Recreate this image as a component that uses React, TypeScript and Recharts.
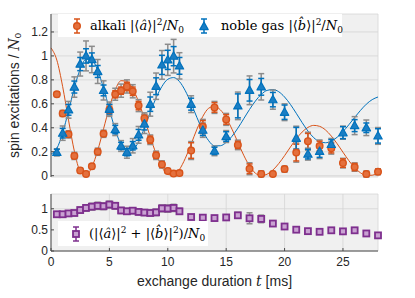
import React from 'react';
import { ComposedChart, Line, Scatter, ErrorBar, XAxis, YAxis, CartesianGrid, Legend } from 'recharts';

// ---------- data ----------
const times = [0.5, 1, 1.5, 2, 2.5, 3, 3.5, 4, 4.5, 5, 5.5, 6, 6.5, 7, 7.5, 8, 8.5, 9, 9.5, 10, 10.5, 11,
  12, 13, 14, 15, 16, 17, 18, 19, 20, 21, 22, 23, 24, 25, 26, 27, 28];

const alkali = [0.68, 0.52, 0.345, 0.165, 0.044, 0.015, 0.078, 0.2, 0.35, 0.55, 0.68, 0.71, 0.745, 0.705, 0.585, 0.48, 0.3, 0.17, 0.094, 0.04, 0.018, 0.022,
  0.21, 0.41, 0.57, 0.47, 0.257, 0.058, 0.015, 0.015, 0.055, 0.193, 0.288, 0.248, 0.23, 0.105, 0.072, 0.014, 0.033];
const alkaliErr = [0.015, 0.02, 0.02, 0.02, 0.015, 0.015, 0.015, 0.02, 0.02, 0.03, 0.03, 0.03, 0.035, 0.035, 0.035, 0.03, 0.03, 0.025, 0.02, 0.015, 0.015, 0.015,
  0.065, 0.05, 0.04, 0.04, 0.03, 0.04, 0.02, 0.015, 0.02, 0.07, 0.065, 0.04, 0.04, 0.035, 0.03, 0.02, 0.02];
const alkaliErrSys = [0.02, 0.025, 0.03, 0.03, 0.02, 0.02, 0.02, 0.03, 0.03, 0.045, 0.05, 0.055, 0.055, 0.055, 0.05, 0.045, 0.04, 0.035, 0.03, 0.02, 0.02, 0.02,
  0.075, 0.06, 0.05, 0.05, 0.04, 0.05, 0.025, 0.02, 0.025, 0.08, 0.075, 0.05, 0.05, 0.04, 0.035, 0.025, 0.025];

const noble = [0.195, 0.355, 0.55, 0.74, 0.932, 1.0, 0.97, 0.87, 0.712, 0.555, 0.385, 0.248, 0.196, 0.25, 0.341, 0.432, 0.597, 0.747, 0.925, 0.967, 0.998, 0.917,
  0.597, 0.38, 0.207, 0.327, 0.583, 0.713, 0.742, 0.635, 0.53, 0.313, 0.18, 0.203, 0.261, 0.359, 0.418, 0.4, 0.332];
const nobleErr = [0.025, 0.04, 0.045, 0.05, 0.055, 0.06, 0.055, 0.05, 0.045, 0.04, 0.035, 0.03, 0.03, 0.035, 0.045, 0.05, 0.06, 0.07, 0.08, 0.08, 0.08, 0.07,
  0.05, 0.045, 0.03, 0.04, 0.1, 0.09, 0.07, 0.06, 0.06, 0.09, 0.04, 0.05, 0.04, 0.05, 0.05, 0.04, 0.06];
const nobleErrSys = [0.03, 0.06, 0.07, 0.085, 0.1, 0.125, 0.11, 0.1, 0.08, 0.06, 0.05, 0.045, 0.05, 0.06, 0.07, 0.08, 0.1, 0.11, 0.12, 0.13, 0.14, 0.11,
  0.07, 0.06, 0.04, 0.05, 0.115, 0.12, 0.11, 0.08, 0.07, 0.1, 0.05, 0.06, 0.05, 0.055, 0.075, 0.065, 0.07];

const total = [0.87, 0.87, 0.89, 0.9, 0.97, 1.02, 1.05, 1.07, 1.06, 1.1, 1.07, 0.96, 0.94, 0.955, 0.925, 0.91, 0.9, 0.915, 1.01, 1.005, 1.02, 0.94,
  0.805, 0.79, 0.78, 0.795, 0.845, 0.775, 0.76, 0.65, 0.58, 0.505, 0.47, 0.455, 0.49, 0.465, 0.49, 0.415, 0.37];
const totalErr = [0.02, 0.02, 0.025, 0.025, 0.03, 0.03, 0.03, 0.03, 0.03, 0.03, 0.03, 0.03, 0.03, 0.03, 0.03, 0.03, 0.03, 0.03, 0.03, 0.03, 0.03, 0.03,
  0.03, 0.03, 0.025, 0.03, 0.05, 0.06, 0.05, 0.04, 0.035, 0.04, 0.03, 0.025, 0.03, 0.025, 0.03, 0.03, 0.03];
const totalErrSys = [0.03, 0.035, 0.045, 0.055, 0.065, 0.075, 0.08, 0.085, 0.08, 0.08, 0.075, 0.07, 0.07, 0.07, 0.065, 0.065, 0.07, 0.075, 0.08, 0.085, 0.085, 0.07,
  0.04, 0.04, 0.035, 0.04, 0.07, 0.13, 0.09, 0.06, 0.05, 0.06, 0.04, 0.03, 0.04, 0.03, 0.04, 0.04, 0.04];

const fitTimes = [0, 0.5, 1, 1.5, 2, 2.5, 3, 3.5, 4, 4.5, 5, 5.5, 6, 6.5, 7, 7.5, 8, 8.5, 9, 9.5, 10, 10.5, 11, 11.5, 12, 12.5, 13, 13.5, 14,
  14.5, 15, 15.5, 16, 16.5, 17, 17.5, 18, 18.5, 19, 19.5, 20, 20.5, 21, 21.5, 22, 22.5, 23, 23.5, 24, 24.5, 25, 25.5, 26, 26.5, 27, 27.5, 28];
const alkaliFit = [1.067, 0.965, 0.743, 0.464, 0.205, 0.037, 0.004, 0.072, 0.211, 0.391, 0.572, 0.717, 0.793, 0.79, 0.727, 0.617, 0.476, 0.324, 0.183, 0.073, 0.01,
  0.004, 0.052, 0.145, 0.265, 0.389, 0.495, 0.563, 0.579, 0.55, 0.483, 0.388, 0.279, 0.171, 0.081, 0.021, 0.0, 0.012, 0.047, 0.101, 0.167, 0.239, 0.307,
  0.364, 0.403, 0.42, 0.412, 0.382, 0.331, 0.267, 0.196, 0.126, 0.067, 0.024, 0.002, 0.004, 0.019];
const nobleFit = [0.18, 0.227, 0.358, 0.541, 0.733, 0.889, 0.972, 0.965, 0.878, 0.731, 0.554, 0.384, 0.259, 0.202, 0.217, 0.282, 0.4, 0.53, 0.65, 0.745, 0.805,
  0.819, 0.786, 0.709, 0.603, 0.485, 0.375, 0.292, 0.249, 0.25, 0.278, 0.329, 0.397, 0.475, 0.553, 0.623, 0.678, 0.712, 0.719, 0.701, 0.657, 0.595, 0.521,
  0.444, 0.373, 0.317, 0.284, 0.275, 0.289, 0.321, 0.368, 0.425, 0.486, 0.545, 0.597, 0.635, 0.657];

const xTicks = [0, 5, 10, 15, 20, 25];
const topYTicks = [0, 0.2, 0.4, 0.6, 0.8, 1, 1.2];
const bottomYTicks = [0, 0.5, 1];

// ---------- tables ----------
const alkaliData = times.map((t, i) => ({ t, v: alkali[i], e: alkaliErr[i], s: alkaliErrSys[i] }));
const nobleData = times.map((t, i) => ({ t, v: noble[i], e: nobleErr[i], s: nobleErrSys[i] }));
const totalData = times.map((t, i) => ({ t, v: total[i], e: totalErr[i], s: totalErrSys[i] }));
const alkaliFitData = fitTimes.map((t, i) => ({ t, v: alkaliFit[i] }));
const nobleFitData = fitTimes.map((t, i) => ({ t, v: nobleFit[i] }));

// ---------- styles ----------
const ORANGE = '#D95319';
const BLUE = '#0072BD';
const PURPLE = '#7E2F8E';
const GRAY = '#8c8c8c';
const AX = '#4a4a4a';
const TXT = '#262626';
const SANS = '"Liberation Sans", Arial, Helvetica, sans-serif';
const SERIF = '"DejaVu Serif", "Liberation Serif", serif';

const CircleShape = (p: any) => (
  <circle cx={p.cx} cy={p.cy} r={3.3} fill="#e4703d" stroke={ORANGE} strokeWidth={1.4} />
);
const TriangleShape = (p: any) => (
  <polygon
    points={`${p.cx},${p.cy - 4.4} ${p.cx - 4.2},${p.cy + 3.1} ${p.cx + 4.2},${p.cy + 3.1}`}
    fill="#1a7ec4" stroke={BLUE} strokeWidth={1.2} strokeLinejoin="round"
  />
);
const SquareShape = (p: any) => (
  <rect x={p.cx - 3} y={p.cy - 3} width={6} height={6} fill="#c9a2d2" stroke={PURPLE} strokeWidth={1.8} />
);

const tickStyle = { fontSize: 12, fill: TXT, fontFamily: SANS };

const sup = { fontSize: 9, position: 'relative' as const, top: -5 };
const sub = { fontSize: 9, position: 'relative' as const, top: 3 };

const MarkerSvg = ({ kind, color }: { kind: string; color: string }) => (
  <svg width={14} height={20} style={{ position: 'absolute', left: 0, top: 0, overflow: 'visible' }}>
    <line x1={7} y1={3} x2={7} y2={17} stroke={color} strokeWidth={1.5} />
    <line x1={4} y1={3} x2={10} y2={3} stroke={color} strokeWidth={1.5} />
    <line x1={4} y1={17} x2={10} y2={17} stroke={color} strokeWidth={1.5} />
    {kind === 'circle' && <CircleShape cx={7} cy={10} />}
    {kind === 'triangle' && <TriangleShape cx={7} cy={10.5} />}
    {kind === 'square' && <SquareShape cx={7} cy={10} />}
  </svg>
);

const TopLegend = () => (
  <div style={{ position: 'relative', width: 284, height: 23, background: '#fff', fontFamily: SERIF, fontSize: 13, color: '#000' }}>
    <div style={{ position: 'absolute', left: 12, top: 1.5, width: 14, height: 20 }}>
      <MarkerSvg kind="circle" color={ORANGE} />
    </div>
    <div style={{ position: 'absolute', left: 32, top: 0, lineHeight: '23px', whiteSpace: 'nowrap' }}>
      alkali |⟨<i>â</i>⟩|<span style={sup}>2</span>/<i>N</i><span style={sub}>0</span>
    </div>
    <div style={{ position: 'absolute', left: 139, top: 1.5, width: 14, height: 20 }}>
      <MarkerSvg kind="triangle" color={BLUE} />
    </div>
    <div style={{ position: 'absolute', left: 163, top: 0, lineHeight: '23px', whiteSpace: 'nowrap' }}>
      noble gas |⟨<i>b̂</i>⟩|<span style={sup}>2</span>/<i>N</i><span style={sub}>0</span>
    </div>
  </div>
);

const BottomLegend = () => (
  <div style={{ position: 'relative', width: 150, height: 25, background: '#fff', fontFamily: SERIF, fontSize: 13, color: '#000' }}>
    <div style={{ position: 'absolute', left: 11, top: 2.5, width: 14, height: 20 }}>
      <MarkerSvg kind="square" color={PURPLE} />
    </div>
    <div style={{ position: 'absolute', left: 31, top: 0, lineHeight: '25px', whiteSpace: 'nowrap' }}>
      (|⟨<i>â</i>⟩|<span style={sup}>2</span> + |⟨<i>b̂</i>⟩|<span style={sup}>2</span>)/<i>N</i><span style={sub}>0</span>
    </div>
  </div>
);

const YLabel = (props: any) => {
  const vb = props.viewBox || { x: 10, y: 14, width: 41, height: 163 };
  const cx = vb.x + 4;
  const cy = vb.y + vb.height / 2;
  return (
    <text x={cx} y={cy} transform={`rotate(-90 ${cx} ${cy})`} textAnchor="middle" dominantBaseline="central"
      fontFamily={SANS} fontSize={14} fill={TXT}>
      spin excitations / <tspan fontFamily={SERIF} fontStyle="italic">N</tspan>
      <tspan fontSize={9.5} dy={3}>0</tspan>
    </text>
  );
};

const XLabel = (props: any) => {
  const vb = props.viewBox || { x: 51, y: 66, width: 327, height: 47 };
  const cx = vb.x + vb.width / 2;
  const cy = vb.y + 34.5;
  return (
    <text x={cx} y={cy} textAnchor="middle" fontFamily={SANS} fontSize={14} fill={TXT}>
      exchange duration <tspan fontFamily={SERIF} fontStyle="italic">t</tspan> [ms]
    </text>
  );
};

export default function App() {
  return (
    <div style={{ position: 'absolute', left: 0, top: 0, width: 415, height: 298, background: '#fff', overflow: 'hidden' }}>
      <div style={{ position: 'absolute', left: 0, top: 0 }}>
        <ComposedChart width={415} height={185} margin={{ top: 14, right: 37, bottom: 8, left: 10 }}>
          <CartesianGrid xAxisId="x" yAxisId="y" stroke="#d6d6d6" fill="#f0f0f0" strokeWidth={0.8} />
          <XAxis xAxisId="x" dataKey="t" type="number" domain={[0, 28]} ticks={xTicks} height={0}
            tick={false} tickSize={-3} axisLine={{ stroke: AX }} tickLine={{ stroke: AX }} />
          <XAxis xAxisId="xt" orientation="top" type="number" domain={[0, 28]} ticks={xTicks} height={0}
            tick={false} tickSize={-3} axisLine={{ stroke: AX }} tickLine={{ stroke: AX }} allowDataOverflow />
          <YAxis yAxisId="y" type="number" domain={[0, 1.35]} ticks={topYTicks} width={41}
            tickSize={-3} tickMargin={6} tick={tickStyle} axisLine={{ stroke: AX }} tickLine={{ stroke: AX }}
            label={YLabel} />
          <YAxis yAxisId="yr" orientation="right" type="number" domain={[0, 1.35]} ticks={topYTicks} width={0}
            tick={false} tickSize={-3} axisLine={{ stroke: AX }} tickLine={{ stroke: AX }} allowDataOverflow />
          <Line xAxisId="x" yAxisId="y" data={alkaliFitData} dataKey="v" type="monotone" stroke={ORANGE}
            strokeWidth={1} dot={false} activeDot={false} isAnimationActive={false} />
          <Line xAxisId="x" yAxisId="y" data={nobleFitData} dataKey="v" type="monotone" stroke={BLUE}
            strokeWidth={1} dot={false} activeDot={false} isAnimationActive={false} />
          <Scatter xAxisId="x" yAxisId="y" data={alkaliData} dataKey="v" shape={CircleShape} isAnimationActive={false}>
            <ErrorBar dataKey="s" direction="y" width={3} stroke={GRAY} strokeWidth={1.5} />
            <ErrorBar dataKey="e" direction="y" width={3} stroke={ORANGE} strokeWidth={1.5} />
          </Scatter>
          <Scatter xAxisId="x" yAxisId="y" data={nobleData} dataKey="v" shape={TriangleShape} isAnimationActive={false}>
            <ErrorBar dataKey="s" direction="y" width={3} stroke={GRAY} strokeWidth={1.5} />
            <ErrorBar dataKey="e" direction="y" width={3} stroke={BLUE} strokeWidth={1.5} />
          </Scatter>
          <Legend layout="horizontal" verticalAlign="middle" align="center" content={TopLegend}
            wrapperStyle={{ left: 58, top: 14, width: 284, height: 23 }} />
        </ComposedChart>
      </div>
      <div style={{ position: 'absolute', left: 0, top: 185 }}>
        <ComposedChart width={415} height={113} margin={{ top: 9, right: 37, bottom: 0, left: 10 }}>
          <CartesianGrid xAxisId="x" yAxisId="y" stroke="#d6d6d6" fill="#f0f0f0" strokeWidth={0.8} />
          <XAxis xAxisId="x" dataKey="t" type="number" domain={[0, 28]} ticks={xTicks} height={47}
            tickSize={-3} tickMargin={9} tick={tickStyle} axisLine={{ stroke: AX }} tickLine={{ stroke: AX }}
            label={XLabel} />
          <XAxis xAxisId="xt" orientation="top" type="number" domain={[0, 28]} ticks={xTicks} height={0}
            tick={false} tickSize={-3} axisLine={{ stroke: AX }} tickLine={{ stroke: AX }} allowDataOverflow />
          <YAxis yAxisId="y" type="number" domain={[0, 1.35]} ticks={bottomYTicks} width={41}
            tickSize={-3} tickMargin={6} tick={tickStyle} axisLine={{ stroke: AX }} tickLine={{ stroke: AX }} />
          <YAxis yAxisId="yr" orientation="right" type="number" domain={[0, 1.35]} ticks={bottomYTicks} width={0}
            tick={false} tickSize={-3} axisLine={{ stroke: AX }} tickLine={{ stroke: AX }} allowDataOverflow />
          <Scatter xAxisId="x" yAxisId="y" data={totalData} dataKey="v" shape={SquareShape} isAnimationActive={false}>
            <ErrorBar dataKey="s" direction="y" width={3} stroke={GRAY} strokeWidth={1.5} />
            <ErrorBar dataKey="e" direction="y" width={3} stroke={PURPLE} strokeWidth={1.5} />
          </Scatter>
          <Legend layout="horizontal" verticalAlign="middle" align="center" content={BottomLegend}
            wrapperStyle={{ left: 58, top: 36, width: 150, height: 25 }} />
        </ComposedChart>
      </div>
    </div>
  );
}
